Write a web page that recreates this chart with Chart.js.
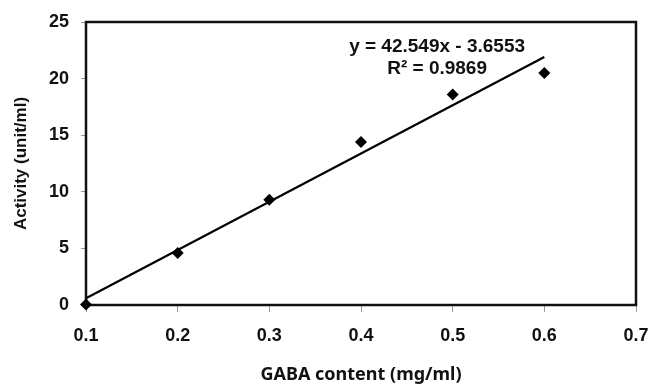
<!DOCTYPE html>
<html>
<head>
<meta charset="utf-8">
<script src="https://cdn.jsdelivr.net/npm/chart.js@4"></script>
<style>
  html, body { margin: 0; padding: 0; background: #fff; }
  #wrap { width: 651px; height: 387px; }
</style>
</head>
<body>
<div id="wrap"><canvas id="graficoGaba" width="651" height="387"></canvas></div>
<script>
// valores
const gaba = [0.1, 0.2, 0.3, 0.4, 0.5, 0.6];
const atividade = [0.05, 4.6, 9.3, 14.4, 18.6, 20.5];
const tendX = [0.1, 0.6];
const tendY = [0.6, 21.9];
const yTicks = [0, 5, 10, 15, 20, 25];
const xTicks = [0.1, 0.2, 0.3, 0.4, 0.5, 0.6, 0.7];
const equacao = 'y = 42.549x - 3.6553';
const r2 = 'R² = 0.9869';

const fonteEixo = { family: '"Liberation Sans", Arial, sans-serif', size: 18, weight: 'bold' };

// moldura da área do gráfico (antes dos pontos) + texto da equação
const moldura = {
    id: 'moldura',
    beforeDatasetsDraw(chart) {
        const { ctx, chartArea: a } = chart;
        ctx.save();
        ctx.strokeStyle = '#111';
        ctx.lineWidth = 2.5;
        ctx.strokeRect(a.left, a.top, a.right - a.left, a.bottom - a.top);
        ctx.restore();
    },
    afterDraw(chart) {
        const { ctx, scales } = chart;
        ctx.save();
        ctx.fillStyle = '#111';
        ctx.font = 'bold 19px "Liberation Sans", Arial, sans-serif';
        ctx.textAlign = 'center';
        ctx.textBaseline = 'middle';
        const cx = scales.x.getPixelForValue(0.483);
        ctx.fillText(equacao, cx, scales.y.getPixelForValue(22.8));
        ctx.fillText(r2, cx, scales.y.getPixelForValue(20.9));
        ctx.restore();
    }
};

const ctx = document.getElementById('graficoGaba').getContext('2d');
new Chart(ctx, {
    type: 'scatter',
    data: {
        datasets: [
            {
                label: 'Activity',
                data: gaba.map((x, i) => ({ x: x, y: atividade[i] })),
                pointStyle: 'rectRot',
                pointRadius: 6,
                backgroundColor: '#000',
                borderColor: '#000',
                borderWidth: 0,
                clip: false,
                order: 1
            },
            {
                label: 'Linear',
                type: 'line',
                data: tendX.map((x, i) => ({ x: x, y: tendY[i] })),
                borderColor: '#000',
                borderWidth: 2.2,
                pointRadius: 0,
                fill: false,
                order: 2
            }
        ]
    },
    options: {
        responsive: false,
        animation: false,
        layout: { padding: { left: 0, top: 22, right: 15, bottom: 0 } },
        plugins: {
            legend: { display: false },
            tooltip: { enabled: false }
        },
        scales: {
            x: {
                type: 'linear',
                min: 0.1,
                max: 0.7,
                afterFit: s => { s.height = 82; s.paddingLeft = 0; s.paddingRight = 0; },
                afterBuildTicks: s => { s.ticks = xTicks.map(v => ({ value: v })); },
                border: { display: false },
                grid: { drawOnChartArea: false, tickLength: 7, color: '#999', lineWidth: 1 },
                ticks: {
                    color: '#111',
                    font: fonteEixo,
                    padding: 13,
                    callback: v => Number(v).toFixed(1)
                },
                title: {
                    display: true,
                    text: 'GABA content (mg/ml)',
                    color: '#111',
                    font: { family: '"Noto Sans", sans-serif', size: 18, weight: 'bold' },
                    padding: { top: 0, bottom: 1 }
                }
            },
            y: {
                min: 0,
                max: 25,
                afterFit: s => { s.width = 86; s.paddingTop = 0; s.paddingBottom = 0; },
                afterBuildTicks: s => { s.ticks = yTicks.map(v => ({ value: v })); },
                border: { display: false },
                grid: { drawOnChartArea: false, tickLength: 5, color: '#999', lineWidth: 1 },
                ticks: {
                    color: '#111',
                    font: fonteEixo,
                    padding: 12
                },
                title: {
                    display: true,
                    text: 'Activity (unit/ml)',
                    color: '#111',
                    font: { family: '"Liberation Sans", Arial, sans-serif', size: 17, weight: 'bold' },
                    padding: { top: 11, bottom: 0 }
                }
            }
        }
    },
    plugins: [moldura]
});
</script>
</body>
</html>
